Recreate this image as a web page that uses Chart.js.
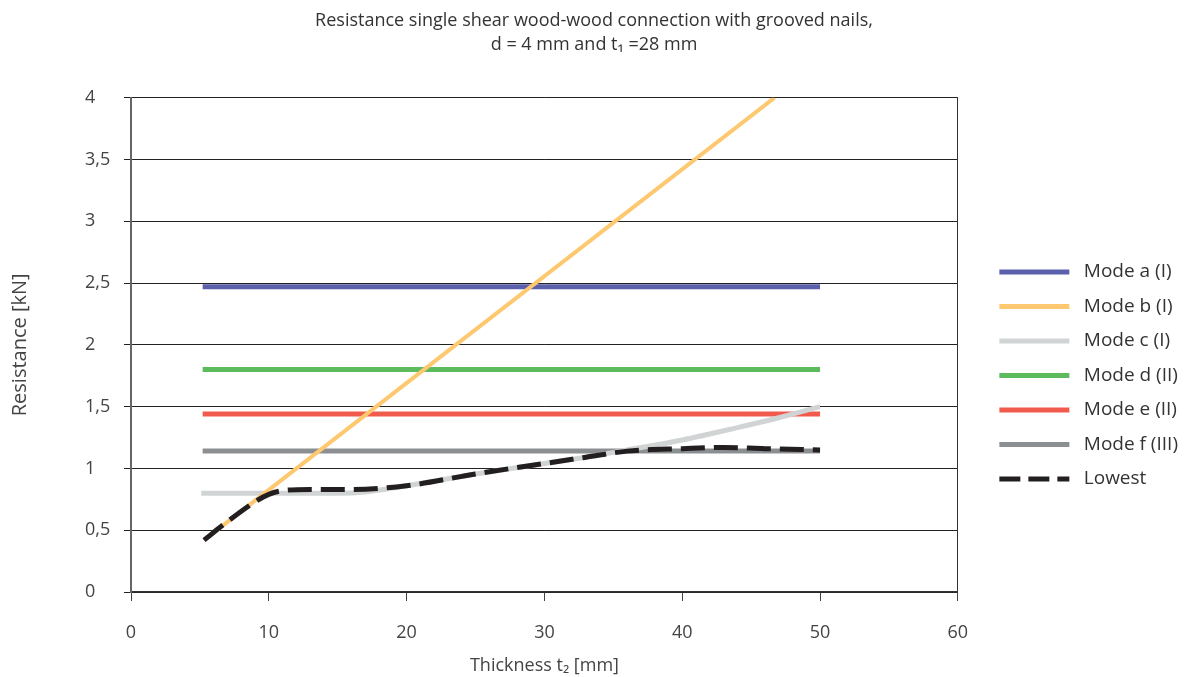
<!DOCTYPE html>
<html>
<head>
<meta charset="utf-8">
<script src="https://cdn.jsdelivr.net/npm/chart.js@4.4.1/dist/chart.umd.min.js"></script>
<style>
  html, body { margin: 0; padding: 0; background: #fff; }
  #wrap { width: 1197px; height: 677px; position: relative; }
</style>
</head>
<body>
<div id="wrap"><canvas id="chart"></canvas></div>
<script>
// values
const labels = ["Mode a (I)", "Mode b (I)", "Mode c (I)", "Mode d (II)", "Mode e (II)", "Mode f (III)", "Lowest"];

const flatX = [5.2, 50];
const modeA = [2.47, 2.47];
const modeD = [1.80, 1.80];
const modeE = [1.44, 1.44];
const modeF = [1.14, 1.14];

const modeBX = [5.3, 46.7];
const modeBY = [0.42, 4.0];

const modeCX = [5.1, 10, 15, 17, 20, 25, 30, 33, 36, 40, 44, 47, 50];
const modeCY = [0.80, 0.80, 0.80, 0.81, 0.86, 0.955, 1.04, 1.09, 1.15, 1.23, 1.33, 1.41, 1.50];

const lowX = [5.3, 7, 9, 10, 11, 13, 16, 20, 25, 30, 33, 36, 40, 43, 46, 50];
const lowY = [0.42, 0.57, 0.73, 0.79, 0.82, 0.83, 0.83, 0.86, 0.955, 1.04, 1.09, 1.14, 1.16, 1.17, 1.16, 1.15];

const xTicks = [0, 10, 20, 30, 40, 50, 60];
const yTicks = [0, 0.5, 1, 1.5, 2, 2.5, 3, 3.5, 4];

const colors = ["#5b5fac", "#fdc86f", "#d1d4d5", "#5dba5d", "#f15b4e", "#8b8f91", "#231f20"];

const pts = (xs, ys) => xs.map((x, i) => ({ x, y: ys[i] }));

const FONT = "'Open Sans', 'DejaVu Sans', sans-serif";

function ds(i, data, extra) {
  return Object.assign({
    label: labels[i],
    data,
    borderColor: colors[i],
    backgroundColor: colors[i],
    borderWidth: 5,
    pointRadius: 0,
    fill: false,
    order: 2,
  }, extra || {});
}

new Chart(document.getElementById("chart"), {
  type: "line",
  data: {
    datasets: [
      ds(0, pts(flatX, modeA)),
      ds(1, pts(modeBX, modeBY), { borderWidth: 4, order: 1 }),
      ds(2, pts(modeCX, modeCY), { cubicInterpolationMode: "monotone" }),
      ds(3, pts(flatX, modeD)),
      ds(4, pts(flatX, modeE)),
      ds(5, pts(flatX, modeF)),
      ds(6, pts(lowX, lowY), { borderDash: [24, 9], cubicInterpolationMode: "monotone", order: 0 }),
    ],
  },
  options: {
    responsive: true,
    maintainAspectRatio: false,
    animation: false,
    layout: { padding: { left: 0, right: 9, top: 0, bottom: 0 } },
    plugins: {
      tooltip: { enabled: false },
      title: {
        display: true,
        text: ["Resistance single shear wood-wood connection with grooved nails,", "d = 4 mm and t\u2081 =28 mm"],
        color: "#333",
        font: { family: FONT, size: 18, weight: "normal", lineHeight: 1.38 },
        padding: { top: 8, bottom: 40 },
      },
      legend: {
        position: "right",
        maxWidth: 240,
        title: { display: true, text: " ", font: { size: 10 }, padding: { top: 0, bottom: 62 } },
        labels: {
          usePointStyle: true,
          pointStyle: "line",
          pointStyleWidth: 70,
          padding: 15.5,
          color: "#333",
          font: { family: FONT, size: 19 },
          sort: (a, b) => a.datasetIndex - b.datasetIndex,
          generateLabels: (chart) => {
            const items = Chart.defaults.plugins.legend.labels.generateLabels(chart);
            items.forEach((it) => {
              it.text = " " + it.text;
              it.lineWidth = 5;
              // point style legend drops the dataset dash, put it back
              it.lineDash = chart.data.datasets[it.datasetIndex].borderDash ? [21, 8] : [];
            });
            return items;
          },
        },
      },
    },
    scales: {
      x: {
        type: "linear",
        min: 0,
        max: 60,
        afterBuildTicks: (s) => { s.ticks = xTicks.map((v) => ({ value: v })); },
        afterFit: (s) => { s.height = 85; },
        grid: { drawOnChartArea: false, drawTicks: true, tickLength: 9, tickColor: "#444" },
        border: { display: true, color: "#333", width: 1.5 },
        ticks: { color: "#444", font: { family: FONT, size: 18 }, padding: 21 },
        title: {
          display: true,
          text: "Thickness t\u2082 [mm]",
          color: "#444",
          font: { family: FONT, size: 18 },
          padding: { top: 8, bottom: 0 },
        },
      },
      yTitle: {
        position: "left",
        weight: 1,
        min: 0,
        max: 4,
        afterFit: (s) => { s.width = 85; },
        ticks: { display: false },
        grid: { display: false },
        border: { display: false },
        title: {
          display: true,
          text: "Resistance [kN]",
          color: "#444",
          font: { family: FONT, size: 20 },
          padding: { top: 8, bottom: 0 },
        },
      },
      y: {
        position: "left",
        weight: 0,
        min: 0,
        max: 4,
        afterBuildTicks: (s) => { s.ticks = yTicks.map((v) => ({ value: v })); },
        afterFit: (s) => { s.width = 46; },
        grid: { color: "#222", lineWidth: 1, tickLength: 7, tickColor: "#222" },
        border: { display: true, color: "#666", width: 2 },
        ticks: {
          color: "#444",
          font: { family: FONT, size: 18 },
          padding: 8,
          crossAlign: "far",
          callback: (v) => String(v).replace(".", ","),
        },
      },
      y2: {
        position: "right",
        min: 0,
        max: 4,
        afterFit: (s) => { s.width = 26; },
        ticks: { display: false },
        grid: { drawOnChartArea: false, drawTicks: false },
        border: { display: true, color: "#333", width: 1 },
      },
    },
  },
});
</script>
</body>
</html>
